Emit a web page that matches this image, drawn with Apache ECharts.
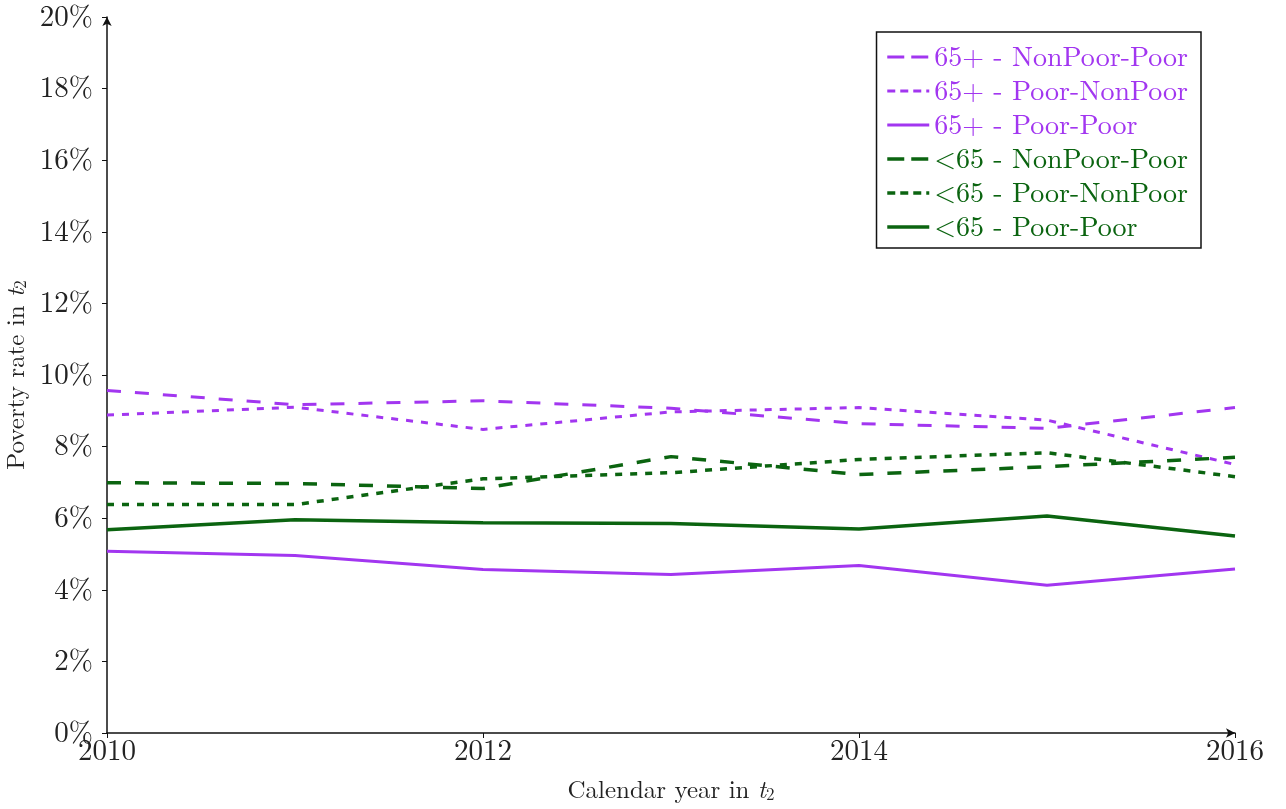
<!DOCTYPE html>
<html>
<head>
<meta charset="utf-8">
<script src="https://cdn.jsdelivr.net/npm/echarts@6/dist/echarts.min.js"></script>
<style>
  html, body { margin: 0; padding: 0; background: #fff; }
  #chart { width: 1286px; height: 809px; }
</style>
</head>
<body>
<div id="chart"></div>
<script>
// Calendar years (t2)
const years = [2010, 2011, 2012, 2013, 2014, 2015, 2016];

// Poverty rates in t2, percent
const oldNonPoorPoor = [9.57, 9.17, 9.28, 9.07, 8.64, 8.51, 9.09];
const oldPoorNonPoor = [8.88, 9.10, 8.48, 8.97, 9.09, 8.74, 7.50];
const oldPoorPoor    = [5.08, 4.96, 4.57, 4.43, 4.68, 4.13, 4.58];
const youngNonPoorPoor = [6.99, 6.97, 6.83, 7.72, 7.22, 7.44, 7.70];
const youngPoorNonPoor = [6.38, 6.38, 7.10, 7.27, 7.64, 7.83, 7.16];
const youngPoorPoor    = [5.68, 5.96, 5.87, 5.85, 5.70, 6.06, 5.50];

const seriesNames = [
  '65+ - NonPoor-Poor',
  '65+ - Poor-NonPoor',
  '65+ - Poor-Poor',
  '<65 - NonPoor-Poor',
  '<65 - Poor-NonPoor',
  '<65 - Poor-Poor'
];

const yTicks = [0, 2, 4, 6, 8, 10, 12, 14, 16, 18, 20];
const xTicks = [2010, 2012, 2014, 2016];

const PURPLE = '#a236f0';
const GREEN = '#0b6410';
const SERIF = '"Latin Modern Roman", "DejaVu Serif", "Liberation Serif", serif';

// dash patterns for the plotted lines and for the legend keys
const dashed = [14, 14];
const dotted = [7, 8];
const legendDashed = [17, 7];
const legendDotted = [8, 5];

const styles = [
  { color: PURPLE, type: dashed, key: legendDashed, width: 3 },
  { color: PURPLE, type: dotted, key: legendDotted, width: 3 },
  { color: PURPLE, type: 'solid', key: 'solid', width: 3 },
  { color: GREEN, type: dashed, key: legendDashed, width: 3.5 },
  { color: GREEN, type: dotted, key: legendDotted, width: 3.5 },
  { color: GREEN, type: 'solid', key: 'solid', width: 3.5 }
];
const values = [oldNonPoorPoor, oldPoorNonPoor, oldPoorPoor,
                youngNonPoorPoor, youngPoorNonPoor, youngPoorPoor];

const pairs = (vals) => years.map((y, i) => [y, vals[i]]);

const chart = echarts.init(document.getElementById('chart'), null, { renderer: 'canvas' });

const rich = {
  n: { fontFamily: SERIF, fontSize: 25, color: '#222' },
  i: { fontFamily: SERIF, fontSize: 25, fontStyle: 'italic', color: '#222' },
  s: { fontFamily: SERIF, fontSize: 17, color: '#222', padding: [9, 0, 0, 0] }
};

chart.setOption({
  animation: false,
  backgroundColor: '#ffffff',
  grid: {
    left: 107, right: 51, top: 17, bottom: 76,
    containLabel: false,
    outerBoundsMode: 'none'
  },
  legend: {
    orient: 'vertical',
    right: 85,
    top: 32,
    padding: [11, 13, 7, 9],
    itemGap: 6,
    itemWidth: 42,
    itemHeight: 14,
    borderColor: '#111',
    borderWidth: 1.5,
    backgroundColor: '#fff',
    borderRadius: 0,
    itemStyle: { opacity: 0 },
    textStyle: { fontFamily: SERIF, fontSize: 28, lineHeight: 28 },
    data: seriesNames.map((n, i) => ({
      name: n,
      itemStyle: { opacity: 0 },
      lineStyle: { color: styles[i].color, width: styles[i].width, type: styles[i].key },
      textStyle: { color: styles[i].color }
    }))
  },
  xAxis: {
    type: 'value',
    min: 2010,
    max: 2016,
    interval: 2,
    name: '{n|Calendar year in }{i|t}{s|2}',
    nameLocation: 'middle',
    nameGap: 44,
    nameTextStyle: { rich: rich },
    axisLine: {
      show: true,
      lineStyle: { color: '#111', width: 1.5 },
      symbol: ['none', 'arrow'],
      symbolSize: [7, 9]
    },
    axisTick: { show: true, length: 5, lineStyle: { color: '#111' } },
    splitLine: { show: false },
    axisLabel: {
      fontFamily: SERIF,
      fontSize: 29,
      color: '#222',
      margin: 4,
      formatter: (v) => xTicks.includes(v) ? String(v) : ''
    }
  },
  yAxis: {
    type: 'value',
    min: 0,
    max: 20,
    interval: 2,
    name: '{n|Poverty rate in }{i|t}{s|2}',
    nameLocation: 'middle',
    nameGap: 58,
    nameRotate: 90,
    nameTextStyle: { rich: rich },
    axisLine: {
      show: true,
      lineStyle: { color: '#111', width: 1.5 },
      symbol: ['none', 'arrow'],
      symbolSize: [7, 9]
    },
    axisTick: { show: true, length: 5, lineStyle: { color: '#111' } },
    splitLine: { show: false },
    axisLabel: {
      fontFamily: SERIF,
      fontSize: 29,
      color: '#222',
      margin: 14,
      formatter: (v) => yTicks.includes(v) ? v + '%' : ''
    }
  },
  series: seriesNames.map((n, i) => ({
    name: n,
    type: 'line',
    data: pairs(values[i]),
    symbol: 'none',
    lineStyle: { color: styles[i].color, width: styles[i].width, type: styles[i].type },
    itemStyle: { color: styles[i].color }
  }))
});
</script>
</body>
</html>
